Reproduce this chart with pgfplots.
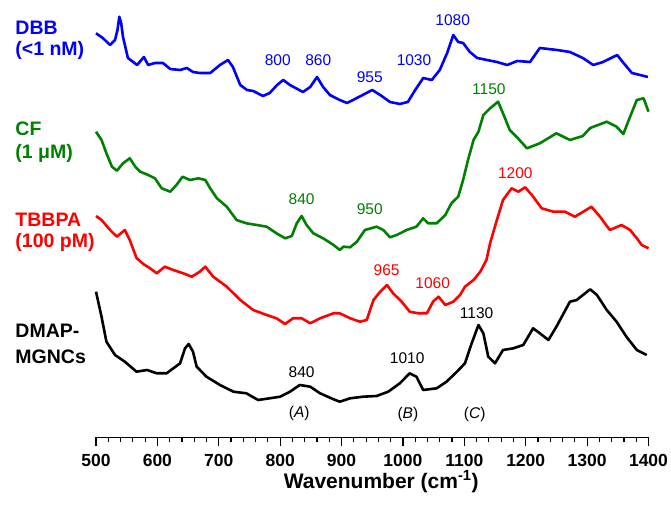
\documentclass[border=0pt]{standalone}
\usepackage{fontspec}
\setmainfont{Liberation Sans}
\usepackage{pgfplots}
\pgfplotsset{compat=1.18}
\usepackage{pgfplotstable}

\definecolor{dbbblue}{RGB}{0,0,255}
\definecolor{cfgreen}{RGB}{0,128,0}
\definecolor{tbred}{RGB}{255,0,0}

% offset Raman spectra, wavenumber vs. intensity (arb., stacked)
\pgfplotstableread{
w y
500 474.7
511 470
523 463
531 468
535 478
538 491.3
541 485
544 471
552 450
567 443
578 451
585 443
596 445
609 445
621 439
637 438
648 440
658 436
669 435
686 435
702 443
715 448
723 441
735 423
746 418
756 417
772 412
783 415
795 423
805 428
816 423
837 416
849 421
860 431
870 421
881 413
897 408
909 405
925 410
950 418
963 413
979 406
995 404
1008 406
1020 418
1033 430
1047 428
1060 438
1072 455
1082 473
1090 466
1098 465
1109 456
1121 450
1137 448
1153 446
1170 443
1186 447
1207 446
1223 460
1251 458
1272 456
1293 450
1310 443
1326 446
1349 453
1358 446
1373 435
1386 433
1399 431
}\dbbdata

\pgfplotstableread{
w y
500 376.3
509 368
517 354.7
526 341.3
534 337.3
544 344.7
555 349.7
564 341.3
572 336.3
585 333
596 329.7
607 319.7
621 316.3
631 323
641 331.3
653 328
667 329.7
678 328
686 319.7
697 309.7
713 301.3
729 288
745 284.7
762 283
778 281.3
794 274.7
808 269.7
819 272
827 284.7
835 292
843 283
854 274.7
870 269.7
887 263
897 258
903 261.3
914 260.7
925 266.3
938 278
957 281.3
968 278
979 270.7
990 273
1006 278
1022 281.3
1033 289.7
1041 284.7
1055 284.7
1069 293
1079 304.7
1090 311.3
1098 328
1106 348
1115 368
1123 376.3
1131 393
1142 399.7
1155 406.3
1163 394.7
1174 378
1185 371.3
1202 359.7
1223 364.7
1250 374.7
1272 368
1293 372
1305 380
1332 386.3
1348 381.3
1359 374
1370 391.3
1381 408
1392 409.7
1400 396.3
}\cfdata

\pgfplotstableread{
w y
500 292
509 288
523 278
534 271.3
547 278
555 268
566 250
577 244
588 239.7
599 234.7
612 241.3
626 238
642 234.7
656 231.3
669 236.3
678 241.3
691 231.3
713 221.3
735 208
756 198
778 193
794 189.7
808 184
821 189.7
835 189.7
849 184.7
865 189.7
887 194.7
897 194.7
914 189.7
930 186.3
941 188
952 208
963 216.3
974 223
984 214.7
998 206.3
1011 196.3
1025 194.7
1039 194.7
1049 206.3
1058 211.3
1069 203
1082 206.3
1093 213
1101 221.3
1115 228
1126 236.3
1136 248
1142 264.7
1153 288
1163 308
1177 319.7
1188 316.3
1199 320.7
1210 313
1226 299.7
1245 296.3
1264 296.3
1280 291.3
1294 296.3
1307 301.3
1321 291.3
1337 278
1356 283
1370 278
1381 269.7
1389 263
1400 259.7
}\tbbpadata

\pgfplotstableread{
w y
500 216.3
509 191.3
517 166.3
531 153
547 146.3
566 136.3
583 138
599 134.7
615 134.7
626 139.7
637 144.7
645 159.7
651 164
658 156.3
664 141.3
680 131.3
702 123
724 116.3
745 114.7
764 108
783 109.7
800 111.3
816 116.3
832 123
849 121.3
865 114.7
887 108.7
897 106.3
914 109.7
935 111.3
957 112
976 116.3
995 124.7
1011 134.7
1022 131.3
1033 118
1055 119.7
1071 126.3
1088 136.3
1101 144.7
1112 164.7
1123 183
1131 174.7
1139 151.3
1150 144.7
1163 158
1180 159.7
1196 163
1212 179.7
1223 174.7
1237 168
1250 181.3
1272 206.3
1283 208
1305 218.7
1316 213
1332 198
1348 186.3
1364 171.3
1381 158
1397 153
}\dmapdata

\begin{document}
\begin{tikzpicture}
\path[use as bounding box] (-96pt,-70.7pt) rectangle (575pt,437.3pt);
\begin{axis}[
    scale only axis,
    width=552.5pt, height=437.3pt,
    xmin=500, xmax=1400, ymin=70.7, ymax=508,
    axis x line=bottom, axis y line=none,
    axis line style={-, line width=1.2pt},
    x axis line style={-},
    every outer x axis line/.append style={-},
    xtick={500,600,...,1400},
    minor x tick num=4,
    tick align=outside,
    major tick length=9pt, minor tick length=5pt,
    tick style={line width=1.2pt, black},
    /pgf/number format/assume math mode=true,
    /pgf/number format/1000 sep={},
    x tick label style={font=\fontsize{17.5}{17.5}\selectfont\bfseries, yshift=-4pt},
    xlabel={Wavenumber (cm\textsuperscript{-1})},
    xlabel style={at={(axis description cs:0.5,0)}, anchor=center,
        yshift=-44.4pt, xshift=9pt, font=\fontsize{21}{21}\selectfont\bfseries},
    clip=false,
]
\addplot[dbbblue, line width=2.6pt, line join=round] table[x=w, y=y] {\dbbdata};
\addplot[cfgreen, line width=2.6pt, line join=round] table[x=w, y=y] {\cfdata};
\addplot[tbred, line width=2.6pt, line join=round] table[x=w, y=y] {\tbbpadata};
\addplot[black, line width=2.6pt, line join=round] table[x=w, y=y] {\dmapdata};

% sample names
\begin{scope}[every node/.style={anchor=west, font=\fontsize{19.5}{20}\selectfont\bfseries}]
\node[text=dbbblue] at (axis cs:363,480.5) {DBB};
\node[text=dbbblue] at (axis cs:363,458) {(<1 nM)};
\node[text=cfgreen] at (axis cs:363,379) {CF};
\node[text=cfgreen] at (axis cs:363,354.5) {(1 μM)};
\node[text=tbred] at (axis cs:363,288) {TBBPA};
\node[text=tbred] at (axis cs:363,266) {(100 pM)};
\node[text=black] at (axis cs:363,177.5) {DMAP-};
\node[text=black] at (axis cs:363,151.5) {MGNCs};
\end{scope}

% peak positions
\begin{scope}[every node/.style={font=\fontsize{15.5}{16}\selectfont}]
\node[text=dbbblue] at (axis cs:796,448) {800};
\node[text=dbbblue] at (axis cs:862,448) {860};
\node[text=dbbblue] at (axis cs:946,431) {955};
\node[text=dbbblue] at (axis cs:1018,448) {1030};
\node[text=dbbblue] at (axis cs:1081,488) {1080};
\node[text=cfgreen] at (axis cs:835,309) {840};
\node[text=cfgreen] at (axis cs:946,299) {950};
\node[text=cfgreen] at (axis cs:1140,419) {1150};
\node[text=tbred] at (axis cs:1183,335.3) {1200};
\node[text=tbred] at (axis cs:973.5,238) {965};
\node[text=tbred] at (axis cs:1048.5,224.7) {1060};
\node[text=black] at (axis cs:835,136.3) {840};
\node[text=black] at (axis cs:1007,149.7) {1010};
\node[text=black] at (axis cs:1120,194.7) {1130};
\node at (axis cs:831,95) {(\textit{A})};
\node at (axis cs:1008,94) {(\textit{B})};
\node at (axis cs:1117,94) {(\textit{C})};
\end{scope}
\end{axis}
\end{tikzpicture}
\end{document}
